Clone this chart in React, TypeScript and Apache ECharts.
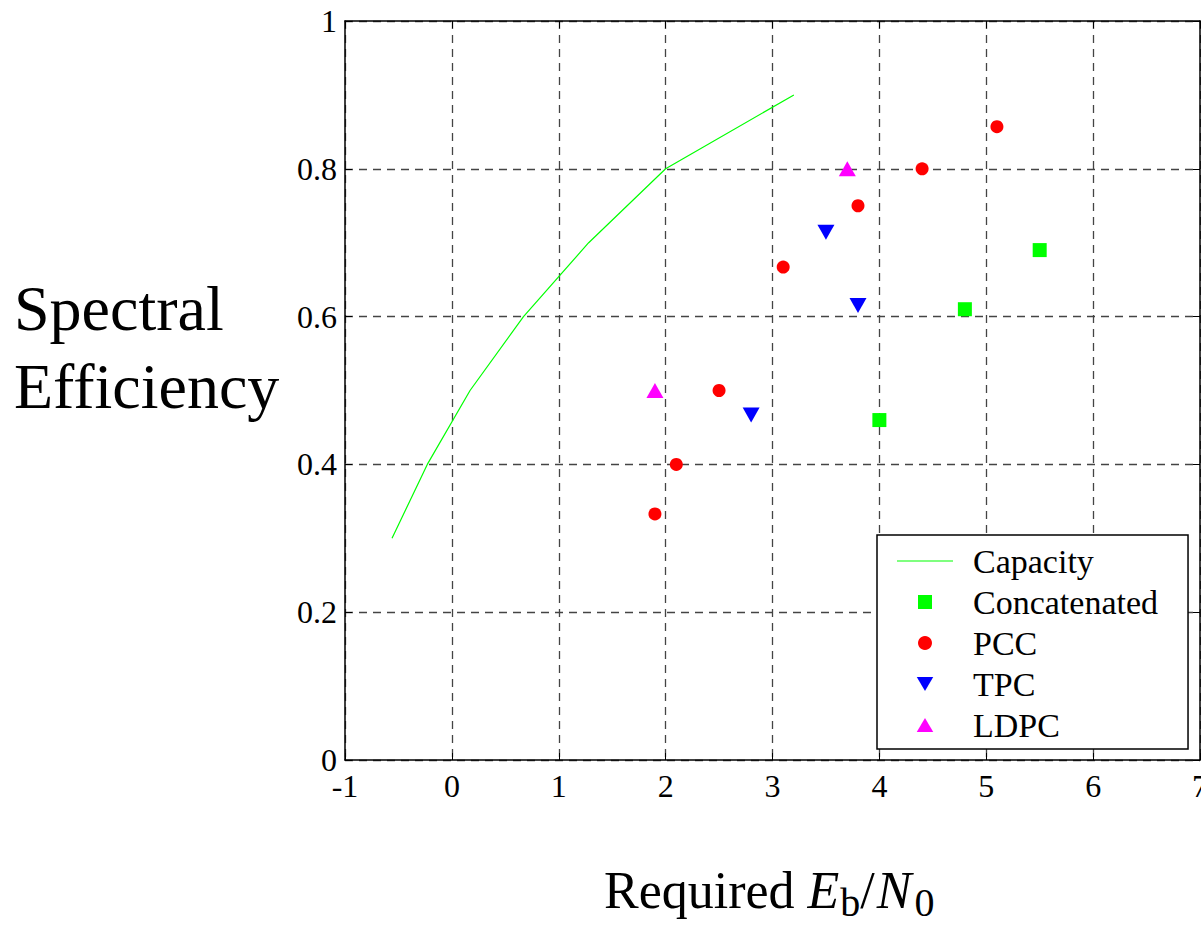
import React, { useEffect, useRef } from 'react';
import * as echarts from 'echarts';

const xTicks = { min: -1, max: 7, interval: 1 };
const yTicks = { min: 0, max: 1, interval: 0.2 };

const capacity: [number, number][] = [
  [-0.56, 0.3], [-0.23, 0.4], [0.17, 0.5], [0.67, 0.6], [1.28, 0.7], [2.0, 0.8], [3.2, 0.9],
];
const concatenated: [number, number][] = [[4.0, 0.46], [4.8, 0.61], [5.5, 0.69]];
const pcc: [number, number][] = [
  [1.9, 0.333], [2.1, 0.4], [2.5, 0.5], [3.1, 0.667], [3.8, 0.75], [4.4, 0.8], [5.1, 0.857],
];
const tpc: [number, number][] = [[2.8, 0.467], [3.5, 0.714], [3.8, 0.615]];
const ldpc: [number, number][] = [[1.9, 0.5], [3.7, 0.8]];

const FONT = 'Liberation Serif';

const ICON_LINE = 'path://M0,0L56,0L56,1.2L0,1.2Z';
const ICON_SQUARE = 'path://M0,0L10,0L10,10L0,10Z';
const ICON_UP = 'path://M5,0L10,8.5L0,8.5Z';
const ICON_DOWN = 'path://M0,0L10,0L5,8.5Z';

export default function App() {
  const ref = useRef<HTMLDivElement>(null);
  useEffect(() => {
    document.body.style.margin = '0';
    const chart = echarts.init(ref.current!, undefined, { renderer: 'svg' });
    const axisLine = { show: true, onZero: false, lineStyle: { color: '#000', width: 1.5 } };
    const tick = { show: true, inside: true, length: 7, lineStyle: { color: '#000', width: 1 } };
    const split = { show: true, lineStyle: { color: '#444', type: [8, 6] as any, width: 1.3 } };
    const label = { fontFamily: FONT, fontSize: 32, color: '#000' };
    chart.setOption({
      animation: false,
      backgroundColor: '#fff',
      grid: { left: 345, top: 21, width: 855, height: 739, show: false, containLabel: false, outerBoundsMode: 'none' },
      xAxis: [
        {
          type: 'value', ...xTicks, position: 'bottom',
          axisLine, axisTick: tick, splitLine: split,
          axisLabel: { ...label, margin: 10, showMaxLabel: true },
        },
        {
          type: 'value', ...xTicks, position: 'top',
          axisLine, axisTick: tick, splitLine: { show: false }, axisLabel: { show: false },
        },
      ],
      yAxis: [
        {
          type: 'value', ...yTicks, position: 'left',
          axisLine, axisTick: tick, splitLine: split,
          axisLabel: { ...label, margin: 8 },
        },
        {
          type: 'value', ...yTicks, position: 'right',
          axisLine, axisTick: tick, splitLine: { show: false }, axisLabel: { show: false },
        },
      ],
      legend: {
        orient: 'vertical',
        left: 877,
        top: 535,
        backgroundColor: '#fff',
        borderColor: '#000',
        borderWidth: 1.5,
        borderRadius: 0,
        padding: [9, 30, 7, 20],
        itemWidth: 56,
        itemHeight: 14,
        itemGap: 7,
        symbolKeepAspect: true,
        textStyle: { fontFamily: FONT, fontSize: 34, color: '#000', lineHeight: 34, padding: [0, 0, 0, 15] },
        data: [
          { name: 'Capacity', icon: ICON_LINE },
          { name: 'Concatenated', icon: ICON_SQUARE },
          { name: 'PCC', icon: 'circle' },
          { name: 'TPC', icon: ICON_DOWN },
          { name: 'LDPC', icon: ICON_UP },
        ],
      },
      graphic: [
        {
          type: 'text', x: 14, y: 308,
          style: { text: 'Spectral', fontFamily: FONT, fontSize: 64, fill: '#000', align: 'left', verticalAlign: 'middle' },
        },
        {
          type: 'text', x: 14, y: 386,
          style: { text: 'Efficiency', fontFamily: FONT, fontSize: 64, fill: '#000', align: 'left', verticalAlign: 'middle' },
        },
        {
          type: 'text', x: 604, y: 890,
          style: {
            text: '{a|Required }{e|E}{s|b}{a|/}{n|N}{s|0}',
            align: 'left', verticalAlign: 'middle',
            rich: {
              a: { fontFamily: FONT, fontSize: 52, lineHeight: 52, fill: '#000' },
              e: { fontFamily: FONT, fontSize: 52, lineHeight: 52, fontStyle: 'italic', fill: '#000', padding: [0, 1, 0, 0] },
              n: { fontFamily: FONT, fontSize: 52, lineHeight: 52, fontStyle: 'italic', fill: '#000', padding: [0, 3, 0, 2] },
              s: { fontFamily: FONT, fontSize: 40, height: 28, lineHeight: 28, verticalAlign: 'bottom', fill: '#000' },
            },
          } as any,
        },
      ],
      series: [
        {
          name: 'Capacity', type: 'line', data: capacity, symbol: 'none', showSymbol: false,
          lineStyle: { color: '#00ff00', width: 1.2 }, itemStyle: { color: '#00ff00' },
        },
        {
          name: 'Concatenated', type: 'scatter', data: concatenated, symbol: 'rect', symbolSize: 14,
          itemStyle: { color: '#00ff00', opacity: 1 },
        },
        {
          name: 'PCC', type: 'scatter', data: pcc, symbol: 'circle', symbolSize: 13,
          itemStyle: { color: '#ff0000', opacity: 1 },
        },
        {
          name: 'TPC', type: 'scatter', data: tpc, symbol: 'triangle', symbolRotate: 180, symbolSize: [17, 15],
          itemStyle: { color: '#0000ff', opacity: 1 },
        },
        {
          name: 'LDPC', type: 'scatter', data: ldpc, symbol: 'triangle', symbolSize: [17, 15],
          itemStyle: { color: '#ff00ff', opacity: 1 },
        },
      ],
    });
    return () => chart.dispose();
  }, []);
  return <div ref={ref} style={{ width: 1201, height: 927 }} />;
}
